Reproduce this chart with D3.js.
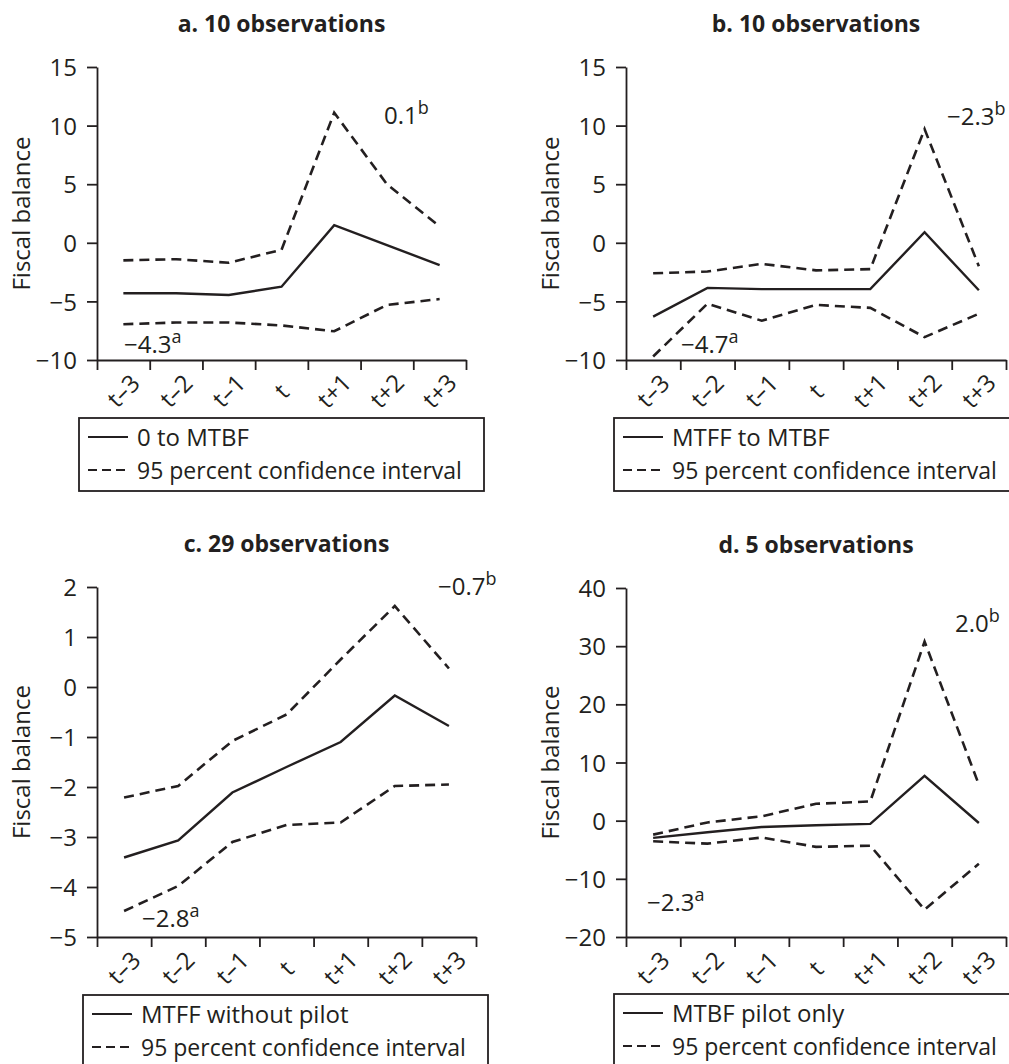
<!DOCTYPE html>
<html>
<head>
<meta charset="utf-8">
<script src="https://cdn.jsdelivr.net/npm/d3@7"></script>
<style>
body { margin: 0; background: #fff; }
text { font-family: "Open Sans", "Noto Sans", sans-serif; fill: #231f20; }
</style>
</head>
<body>
<div id="chart"></div>
<script>
// periods around the reform year
var periods = ["t–3", "t–2", "t–1", "t", "t+1", "t+2", "t+3"];

var titles = ["a. 10 observations", "b. 10 observations", "c. 29 observations", "d. 5 observations"];
var legendLabels = ["0 to MTBF", "MTFF to MTBF", "MTFF without pilot", "MTBF pilot only"];
var ciLabel = "95 percent confidence interval";
var yLabel = "Fiscal balance";

// panel a
var meanA  = [-4.3, -4.3, -4.45, -3.75, 1.5, -0.2, -1.9];
var upperA = [-1.5, -1.4, -1.7, -0.6, 11.1, 5.0, 1.4];
var lowerA = [-6.95, -6.8, -6.8, -7.05, -7.55, -5.3, -4.8];
// panel b
var meanB  = [-6.3, -3.85, -3.95, -3.95, -3.95, 0.9, -4.05];
var upperB = [-2.6, -2.45, -1.8, -2.35, -2.25, 9.7, -2.0];
var lowerB = [-9.7, -5.2, -6.65, -5.3, -5.55, -8.05, -6.05];
// panel c
var meanC  = [-3.41, -3.07, -2.11, -1.6, -1.1, -0.17, -0.78];
var upperC = [-2.21, -1.98, -1.08, -0.55, 0.55, 1.62, 0.37];
var lowerC = [-4.48, -3.98, -3.1, -2.76, -2.71, -1.98, -1.95];
// panel d
var meanD  = [-2.95, -2.0, -1.1, -0.8, -0.55, 7.7, -0.4];
var upperD = [-2.4, -0.3, 0.75, 2.9, 3.3, 30.8, 6.2];
var lowerD = [-3.55, -3.95, -2.9, -4.5, -4.3, -15.3, -7.4];

var yDomains = [[-10, 15], [-10, 15], [-5, 2], [-20, 40]];
var yTicks = [
  [-10, -5, 0, 5, 10, 15],
  [-10, -5, 0, 5, 10, 15],
  [-5, -4, -3, -2, -1, 0, 1, 2],
  [-20, -10, 0, 10, 20, 30, 40]
];
var lowNotes  = ["−4.3", "−4.7", "−2.8", "−2.3"];
var highNotes = ["0.1", "−2.3", "−0.7", "2.0"];

var means = [meanA, meanB, meanC, meanD];
var uppers = [upperA, upperB, upperC, upperD];
var lowers = [lowerA, lowerB, lowerC, lowerD];

// layout of each panel (plot box, note anchors, legend box)
var boxes = [
  {l: 97,  r: 466,  t: 67,  b: 360, low: [124, 353], high: [384, 124], leg: [79, 418]},
  {l: 626, r: 1006, t: 67,  b: 360, low: [681, 353], high: [947, 125], leg: [614, 418]},
  {l: 97,  r: 476,  t: 587, b: 937, low: [142, 927], high: [438, 595], leg: [83, 995]},
  {l: 626, r: 1006, t: 588, b: 937, low: [647, 911], high: [955, 632], leg: [614, 994]}
];

var w = 1009, h = 1064;
var ink = "#231f20";
var fs = "24px";

var svg = d3.select("#chart").append("svg")
    .attr("width", w)
    .attr("height", h);

boxes.forEach(function(bx, p) {
    var g = svg.append("g");

    var x = d3.scaleLinear().domain([0, periods.length]).range([bx.l, bx.r]);
    var y = d3.scaleLinear().domain(yDomains[p]).range([bx.b, bx.t]);

    // y axis
    var yAxis = g.append("g")
        .attr("transform", "translate(" + bx.l + ",0)")
        .call(d3.axisLeft(y).tickValues(yTicks[p]).tickSize(10).tickSizeOuter(0).tickPadding(10)
            .tickFormat(function(d){ return d < 0 ? "−" + Math.abs(d) : d; }));
    yAxis.selectAll("text").style("font-size", fs).attr("dy", "0.36em");

    // x axis: ticks on period boundaries
    g.append("g")
        .attr("transform", "translate(0," + bx.b + ")")
        .call(d3.axisBottom(x).tickValues(d3.range(periods.length + 1)).tickSize(10).tickSizeOuter(0).tickFormat(""));

    g.selectAll(".domain, .tick line").attr("stroke", ink).attr("stroke-width", 1.8);

    // rotated period labels
    g.selectAll(".plabel")
        .data(periods)
        .enter()
        .append("text")
        .attr("class", "plabel")
        .attr("transform", function(d, i){
            return "translate(" + x(i + 0.5) + "," + (bx.b + 31) + ") rotate(-45)";
        })
        .attr("text-anchor", "middle")
        .attr("dy", "0.35em")
        .style("font-size", fs)
        .text(function(d){ return d; });

    // title
    g.append("text")
        .attr("x", (bx.l + bx.r) / 2)
        .attr("y", bx.t - 35)
        .attr("text-anchor", "middle")
        .style("font-size", "23px")
        .style("font-weight", "bold")
        .text(titles[p]);

    // y label
    g.append("text")
        .attr("transform", "translate(" + (bx.l - 67) + "," + ((bx.t + bx.b) / 2) + ") rotate(-90)")
        .attr("text-anchor", "middle")
        .style("font-size", fs)
        .text(yLabel);

    var line = d3.line()
        .x(function(d, i){ return x(i + 0.5); })
        .y(function(d){ return y(d); });

    [uppers[p], lowers[p]].forEach(function(s) {
        g.append("path")
            .attr("d", line(s))
            .attr("fill", "none")
            .attr("stroke", ink)
            .attr("stroke-width", 2.6)
            .attr("stroke-dasharray", "10,6");
    });
    g.append("path")
        .attr("d", line(means[p]))
        .attr("fill", "none")
        .attr("stroke", ink)
        .attr("stroke-width", 2.4);

    // notes with superscripts
    [[bx.low, lowNotes[p], "a"], [bx.high, highNotes[p], "b"]].forEach(function(n) {
        var t = g.append("text")
            .attr("x", n[0][0])
            .attr("y", n[0][1])
            .style("font-size", fs)
            .text(n[1]);
        t.append("tspan")
            .attr("dy", -10)
            .style("font-size", "18px")
            .text(n[2]);
    });

    // legend
    var lg = g.append("g").attr("transform", "translate(" + bx.leg[0] + "," + bx.leg[1] + ")");
    lg.append("rect")
        .attr("width", 405)
        .attr("height", 73)
        .attr("fill", "none")
        .attr("stroke", ink)
        .attr("stroke-width", 1.8);
    [[legendLabels[p], null, 19, fs], [ciLabel, "9,5", 52, "23px"]].forEach(function(it) {
        lg.append("line")
            .attr("x1", 9).attr("x2", 49)
            .attr("y1", it[2]).attr("y2", it[2])
            .attr("stroke", ink)
            .attr("stroke-width", 2.2)
            .attr("stroke-dasharray", it[1]);
        lg.append("text")
            .attr("x", 58)
            .attr("y", it[2] + 9)
            .style("font-size", it[3])
            .text(it[0]);
    });
});
</script>
</body>
</html>
